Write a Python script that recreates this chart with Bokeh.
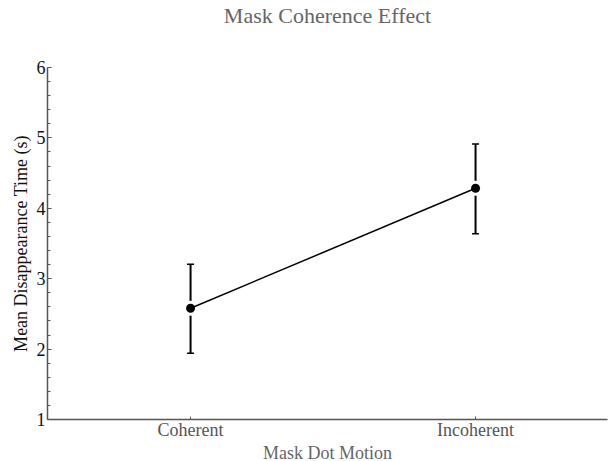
from bokeh.plotting import figure
from bokeh.models import ColumnDataSource, FixedTicker, Whisker, TeeHead, Range1d, Title
from bokeh.embed import file_html
from bokeh.resources import INLINE

categories = ["Coherent", "Incoherent"]
means = [2.58, 4.285]
upper = [3.205, 4.915]
lower = [1.94, 3.64]
y_ticks = [1, 2, 3, 4, 5, 6]

xs = list(range(len(categories)))
src = ColumnDataSource(dict(x=xs, mean=means, upper=upper, lower=lower))

FONT = "Liberation Serif"

p = figure(frame_width=560, frame_height=352, output_backend="svg", toolbar_location=None,
           x_range=Range1d(-0.502, 1.463), y_range=Range1d(1, 6),
           min_border_left=39, min_border_right=1, min_border_top=0, min_border_bottom=0,
           title="Mask Coherence Effect")
p.margin = (0, 0, 0, 7)
p.outline_line_color = None
p.grid.visible = False
p.background_fill_color = "white"
p.border_fill_color = "white"

p.title.align = "center"
p.title.text_font = FONT
p.title.text_font_size = "22px"
p.title.text_font_style = "normal"
p.title.text_color = "#666666"
p.title.offset = 4
p.title.standoff = 0

spacer = Title(text=" ", text_font=FONT, text_font_size="22px", standoff=13)
p.add_layout(spacer, "above")

# x axis
xa = p.xaxis[0]
xa.ticker = FixedTicker(ticks=xs)
xa.major_label_overrides = {i: c for i, c in enumerate(categories)}
xa.axis_label = "Mask Dot Motion"
xa.axis_label_text_font = FONT
xa.axis_label_text_font_style = "normal"
xa.axis_label_text_font_size = "18px"
xa.axis_label_text_color = "#666666"
xa.axis_label_standoff = 0
xa.major_label_text_font = FONT
xa.major_label_text_font_size = "18px"
xa.major_label_text_color = "#555555"
xa.major_label_standoff = 0
xa.major_tick_in = 3
xa.major_tick_out = 0
xa.minor_tick_line_color = None
xa.axis_line_color = "#555555"
xa.axis_line_width = 1.5
xa.major_tick_line_color = "#555555"

# y axis
ya = p.yaxis[0]
ya.ticker = FixedTicker(ticks=y_ticks, minor_ticks=[1 + i * 0.2 for i in range(26)])
ya.axis_label = "Mean Disappearance Time (s)"
ya.axis_label_text_font = FONT
ya.axis_label_text_font_style = "normal"
ya.axis_label_text_font_size = "18px"
ya.axis_label_text_color = "#111111"
ya.axis_label_standoff = 3
ya.major_label_text_font = FONT
ya.major_label_text_font_size = "18px"
ya.major_label_text_color = "#111111"
ya.major_label_standoff = 2
ya.major_tick_in = 4
ya.major_tick_out = 0
ya.minor_tick_in = 3
ya.minor_tick_out = 0
ya.axis_line_color = "#555555"
ya.axis_line_width = 1.5
ya.major_tick_line_color = "#555555"
ya.minor_tick_line_color = "#555555"

w = Whisker(base="x", upper="upper", lower="lower", source=src, line_color="black", line_width=2,
            upper_head=TeeHead(size=7, line_width=1.5, line_color="black"),
            lower_head=TeeHead(size=7, line_width=1.5, line_color="black"))
p.add_layout(w)

p.scatter("x", "mean", source=src, size=15, fill_color="white", line_color=None, level="overlay")
p.line("x", "mean", source=src, line_color="black", line_width=1.5, level="overlay")
p.scatter("x", "mean", source=src, size=9, fill_color="black", line_color=None, level="overlay")

open("out.html", "w").write(file_html(p, INLINE))
